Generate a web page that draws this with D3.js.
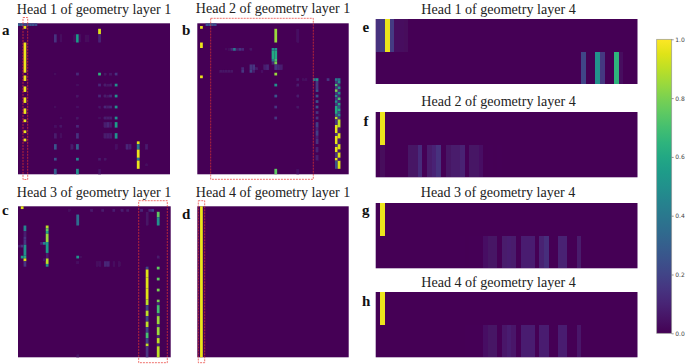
<!DOCTYPE html>
<meta charset="utf-8">
<style>
html, body { margin: 0; padding: 0; background: #fff; }
svg { display: block; }
.title { font-family: "Liberation Serif", serif; font-size: 14.1px; fill: #222; text-anchor: middle; }
.letter { font-family: "Liberation Serif", serif; font-size: 15px; font-weight: bold; fill: #111; }
.cbar text { font-family: "DejaVu Sans", sans-serif; font-size: 6px; fill: #444; }
.cbar line { stroke: #555; stroke-width: 0.6px; }
.cbar path { display: none; }
</style>
<body>
<script src="https://d3js.org/d3.v7.min.js"></script>
<script>
// every entry is [column, first row, last row, attention value]
var headA = [
  [0,0,0,.3],[1,0,0,.28],[2,0,0,.2],[3,0,0,.2],[4,0,0,.25],[5,0,0,.25],[6,0,0,.22],
  [2,1,1,.97],[2,7,17,.97],[2,19,20,.97],[2,23,24,.97],[2,27,28,.97],[2,31,32,.97],[2,35,35,.97],[2,39,39,.97],[2,42,42,.97],
  [13,4,6,.14],[15,4,6,.03],[21,4,6,.55],[20,4,6,.03],[22,4,6,.03],[24,4,6,.02],[25,4,6,.02],
  [29,2,3,.95],[29,4,6,.1],
  [29,18,18,.65],[21,18,18,.11],[31,18,18,.05],[33,18,18,.06],[35,18,18,.15],[13,18,18,.02],
  [35,22,22,.5],[29,22,22,.11],[31,22,22,.07],[32,22,22,.05],[33,22,22,.07],[21,22,22,.03],
  [35,26,26,.5],[29,26,26,.11],[31,26,26,.07],[32,26,26,.05],[33,26,26,.11],[21,26,26,.05],
  [35,30,30,.5],[31,30,30,.11],[32,30,30,.07],[33,30,30,.11],[29,30,30,.05],[21,30,30,.04],[13,30,30,.02],
  [35,34,34,.5],[31,34,34,.08],[32,34,34,.07],[33,34,34,.08],[21,34,34,.05],[29,34,34,.03],[15,34,34,.02],
  [35,36,37,.55],[31,36,37,.08],[32,36,37,.11],[33,36,37,.07],[21,37,37,.11],[13,37,37,.04],[15,37,37,.05],
  [35,40,41,.5],[31,40,41,.07],[32,40,41,.08],[33,40,41,.08],[21,40,41,.14],[13,40,41,.07],[15,40,41,.03],
  [43,43,43,.95],[13,44,45,.25],[19,44,45,.07],[21,44,45,.3],[39,44,45,.11],[40,44,45,.08],[43,44,45,.4],[46,44,45,.07],[35,44,45,.04],
  [43,46,48,.97],[13,49,49,.25],[21,49,49,.45],[29,49,49,.07],[31,49,49,.05],[43,49,49,.4],
  [43,50,52,.97],[46,51,51,.03],[13,53,54,.3],[21,53,54,.5],[29,53,54,.05]
];
var headB = [
  [3,0,0,.25],[4,0,0,.25],[5,0,0,.25],[6,0,0,.22],
  [1,1,1,.97],[1,7,8,.97],[1,19,19,.97],
  [28,2,6,.85],[36,2,6,.04],
  [27,9,9,.5],[28,9,9,.5],[27,10,12,.6],[28,10,12,.6],[27,13,13,.4],[28,13,13,.7],[27,14,14,.11],[28,14,14,.8],
  [12,9,9,.11],[13,9,9,.4],[14,9,9,.07],[15,9,9,.15],[16,9,9,.11],[19,9,9,.05],[10,9,9,.02],[11,9,9,.03],
  [19,15,16,.15],[20,15,16,.15],[24,15,16,.08],[25,15,16,.11],[28,15,16,.15],[29,15,16,.11],[30,15,16,.08],[16,16,16,.11],[21,16,16,.07],
  [8,17,17,.05],[9,17,17,.05],[10,17,17,.05],[11,17,17,.05],[12,17,17,.05],[16,17,17,.15],[19,17,17,.2],[20,17,17,.08],[23,17,17,.04],
  [28,18,18,.85],[28,22,22,.5],[28,26,26,.25],[28,30,30,.15],[28,34,34,.15],[28,53,54,.75],[36,53,54,.04],
  [36,20,20,.07],[36,22,22,.07],[36,26,26,.07],[36,30,30,.05],[39,20,20,.04],[38,20,20,.03],
  [42,20,20,.4],[43,20,20,.5],[47,20,20,.15],
  [43,21,23,.16],[43,24,24,.25],[43,26,26,.25],[43,28,28,.25],[43,30,30,.25],[43,32,32,.15],[43,34,34,.15],[43,36,37,.18],[43,38,38,.1],[43,39,40,.18],[43,41,41,.08],[43,42,43,.14],[43,45,46,.1],[43,48,49,.08],
  [50,20,20,.4],[50,22,22,.7],[50,24,24,.8],[50,26,26,.5],[50,28,28,.5],[50,30,32,.6],[50,34,34,.9],[50,37,39,.96],[50,41,43,.96],[50,45,46,.96],[50,49,49,.96],[50,50,52,.25],
  [50,21,21,.15],[50,23,23,.15],[50,25,25,.15],[50,27,27,.15],[50,29,29,.15],[50,33,33,.25],[50,35,36,.15],[50,40,40,.15],[50,44,44,.15],[50,47,48,.15],
  [51,20,20,.4],[51,21,21,.5],[51,22,22,.11],[51,23,23,.55],[51,24,24,.11],[51,25,25,.5],[51,26,26,.11],[51,27,27,.7],[51,28,28,.11],[51,29,29,.6],[51,30,30,.25],[51,31,31,.6],[51,32,32,.25],[51,33,33,.5],[51,34,34,.15],
  [51,35,37,.9],[51,40,41,.95],[51,44,45,.95],[51,47,48,.95],[51,50,52,.95],
  [51,38,39,.07],[51,42,43,.07],[51,46,46,.07],[51,49,49,.07]
];
var headC = [
  [1,0,0,.95],
  [2,7,8,.45],[2,9,10,.08],[2,11,11,.15],[2,12,13,.15],[2,14,17,.5],[1,18,18,.55],[2,18,18,.6],[2,19,19,.95],[2,20,21,.15],[0,14,14,.07],[1,14,14,.15],
  [10,7,7,.9],[10,8,8,.75],[10,9,9,.6],[10,10,12,.85],[10,13,16,.55],[9,13,13,.45],[8,13,13,.11],[10,17,18,.07],[10,19,20,.9],[10,21,21,.5],[9,19,19,.05],
  [21,3,6,.35],[21,18,18,.5],[22,18,18,.03],[21,20,20,.04],[21,54,54,.05],
  [28,20,21,.03],[29,20,21,.04],[31,20,21,.11],[32,20,21,.11],[34,20,21,.03],[36,20,21,.03],
  [18,1,1,.03],[26,1,1,.07],[30,1,1,.07],[34,1,1,.08],[37,1,1,.08],[39,1,1,.07],[44,1,1,.11],[47,1,1,.11],[48,1,1,.2],
  [46,2,6,.05],[46,22,22,.2],[46,23,25,.95],[46,26,29,.95],[46,30,33,.95],[46,34,35,.9],[46,36,37,.2],[46,38,39,.9],[46,40,41,.2],[46,42,43,.9],[46,44,45,.2],[46,46,47,.7],[46,48,49,.2],[46,50,50,.9],[46,51,54,.15],
  [50,2,3,.75],[50,4,6,.5],[50,18,18,.07],[50,22,22,.75],[50,26,26,.75],[50,30,30,.8],[50,34,34,.8],[50,35,35,.11],[50,36,38,.7],[50,39,39,.11],[50,40,42,.85],[50,43,43,.11],[50,44,46,.85],[50,47,47,.11],[50,48,49,.9],[50,50,50,.11],[50,51,54,.9]
];
var headD = [[1,0,54,.97]];
var headE = [
  [0,0,0,.14],[1,0,0,.17],[2,0,0,.97],[3,0,0,.17],[4,0,0,.03],[5,0,0,.03],[6,0,0,.02],
  [44,1,1,.2],[47,1,1,.5],[48,1,1,.16],[51,1,1,.65],[52,1,1,.03]
];
var headF = [
  [1,0,0,.97],
  [1,1,1,.02],[7,1,1,.05],[8,1,1,.05],[9,1,1,.12],[10,1,1,.01],[11,1,1,.07],[12,1,1,.1],[13,1,1,.14],
  [15,1,1,.05],[16,1,1,.07],[17,1,1,.07],[18,1,1,.09],[19,1,1,.01],[20,1,1,.05],[21,1,1,.05],[22,1,1,.04],[24,1,1,.005],[26,1,1,.005]
];
var headG = [
  [1,0,0,.97],
  [18,1,1,.01],[20,1,1,.01],[21,1,1,.01],[22,1,1,.01],[23,1,1,.04],[24,1,1,.05],[25,1,1,.05],
  [27,1,1,.07],[28,1,1,.08],[29,1,1,.07],[31,1,1,.08],[32,1,1,.08],[33,1,1,.08],
  [35,1,1,.09],[36,1,1,.13],[39,1,1,.09],[40,1,1,.09],[43,1,1,.07]
];
var headH = [
  [1,0,0,.97],
  [19,1,1,.01],[20,1,1,.01],[21,1,1,.01],[22,1,1,.01],[23,1,1,.04],[24,1,1,.05],[25,1,1,.05],
  [27,1,1,.06],[28,1,1,.08],[29,1,1,.06],[31,1,1,.08],[32,1,1,.08],[33,1,1,.08],
  [35,1,1,.08],[36,1,1,.08],[39,1,1,.08],[40,1,1,.08],[43,1,1,.06]
];
var titles = ["Head 1 of geometry layer 1","Head 2 of geometry layer 1","Head 3 of geometry layer 1","Head 4 of geometry layer 1",
              "Head 1 of geometry layer 4","Head 2 of geometry layer 4","Head 3 of geometry layer 4","Head 4 of geometry layer 4"];
var letters = ["a","b","c","d","e","f","g","h"];
var colorTicks = [0,.2,.4,.6,.8,1];

var width = 685, height = 364;

// left, top, right, bottom of each heatmap and the grid size
var frames = [
  {d:headA, x0:18,    y0:23.3,  x1:170,   y1:174.3, cols:55, rows:55, tx:94,    ty:13.5, lx:2,   ly:35},
  {d:headB, x0:197.3, y0:23.3,  x1:348.7, y1:174.3, cols:55, rows:55, tx:273,   ty:12.5, lx:182, ly:35},
  {d:headC, x0:18,    y0:206.3, x1:170.7, y1:357.3, cols:55, rows:55, tx:94,    ty:197,  lx:2,   ly:215},
  {d:headD, x0:197.3, y0:206.3, x1:348.7, y1:357.3, cols:55, rows:55, tx:273,   ty:197,  lx:182, ly:219},
  {d:headE, x0:375.7, y0:19,    x1:637.5, y1:84,    cols:56, rows:2,  tx:498.5, ty:14,   lx:362.5, ly:32},
  {d:headF, x0:375.7, y0:112,   x1:637.5, y1:177.3, cols:56, rows:2,  tx:498.5, ty:106,  lx:363.5, ly:126},
  {d:headG, x0:375.7, y0:203,   x1:637.5, y1:268.3, cols:56, rows:2,  tx:498,   ty:197,  lx:362,   ly:215},
  {d:headH, x0:375.7, y0:292,   x1:637.5, y1:357.3, cols:56, rows:2,  tx:498.5, ty:287,  lx:362,   ly:306}
];
// red dashed selections on a-d
var boxes = [
  {x0:23,    y0:17.5,  x1:27.7,  y1:179.5},
  {x0:210.7, y0:18.3,  x1:313.3, y1:179.3},
  {x0:138.7, y0:200.7, x1:167.3, y1:362.7},
  {x0:198.3, y0:200.7, x1:204.7, y1:362.7}
];

var color = d3.scaleSequential(d3.interpolateViridis).domain([0, 1]);

var svg = d3.select("body").append("svg")
  .attr("width", width)
  .attr("height", height);

var blur = svg.append("defs").append("filter")
  .attr("id", "soft")
  .attr("x", "-2%").attr("y", "-2%").attr("width", "104%").attr("height", "104%");
blur.append("feGaussianBlur").attr("stdDeviation", 0.4);

frames.forEach(function(f, i) {
  var x = d3.scaleBand().domain(d3.range(f.cols)).range([f.x0, f.x1]);
  var y = d3.scaleBand().domain(d3.range(f.rows)).range([f.y0, f.y1]);
  var g = svg.append("g").attr("filter", "url(#soft)");

  g.append("rect")
    .attr("x", f.x0).attr("y", f.y0)
    .attr("width", f.x1 - f.x0).attr("height", f.y1 - f.y0)
    .attr("fill", color(0));

  // the wide two-row maps show seams between neighbouring columns unless snapped
  g.selectAll("rect.cell")
    .data(f.d)
    .enter().append("rect")
    .attr("class", "cell")
    .attr("x", function(d) { return x(d[0]); })
    .attr("y", function(d) { return y(d[1]); })
    .attr("width", x.bandwidth())
    .attr("height", function(d) { return y(d[2]) + y.bandwidth() - y(d[1]); })
    .attr("fill", function(d) { return color(d[3]); })
    .attr("shape-rendering", f.rows == 2 ? "crispEdges" : "auto");

  svg.append("text").attr("class", "title").attr("x", f.tx).attr("y", f.ty).text(titles[i]);
  svg.append("text").attr("class", "letter").attr("x", f.lx).attr("y", f.ly).text(letters[i]);
});

svg.selectAll("rect.box")
  .data(boxes)
  .enter().append("rect")
  .attr("class", "box")
  .attr("x", function(d) { return d.x0; })
  .attr("y", function(d) { return d.y0; })
  .attr("width", function(d) { return d.x1 - d.x0; })
  .attr("height", function(d) { return d.y1 - d.y0; })
  .attr("fill", "none")
  .attr("stroke", "#e8352e")
  .attr("stroke-width", 0.7)
  .attr("stroke-dasharray", "2,1");

// colour bar
var barY = d3.scaleLinear().domain([0, 1]).range([333.3, 39.3]);
var grad = svg.append("defs").append("linearGradient")
  .attr("id", "viridis")
  .attr("x1", 0).attr("y1", 1).attr("x2", 0).attr("y2", 0);
d3.range(0, 1.001, 0.05).forEach(function(t) {
  grad.append("stop").attr("offset", t).attr("stop-color", color(t));
});
svg.append("rect")
  .attr("x", 656.7).attr("y", barY(1))
  .attr("width", 15).attr("height", barY(0) - barY(1))
  .attr("fill", "url(#viridis)")
  .attr("stroke", "#999")
  .attr("stroke-width", 0.7);

svg.append("g")
  .attr("class", "cbar")
  .attr("transform", "translate(671.7,0)")
  .call(d3.axisRight(barY).tickValues(colorTicks).tickFormat(d3.format(".1f")).tickSize(2).tickPadding(1.5));
</script>
</body>
